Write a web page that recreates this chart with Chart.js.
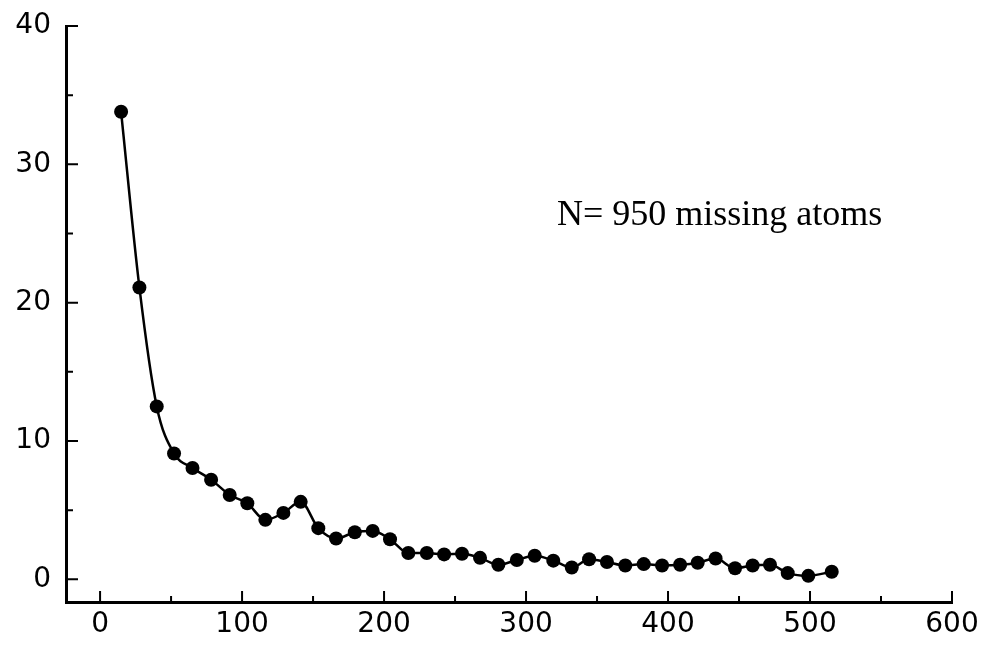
<!DOCTYPE html>
<html>
<head>
<meta charset="utf-8">
<script src="https://cdn.jsdelivr.net/npm/chart.js@4.4.1/dist/chart.umd.min.js"></script>
<style>
  html, body { margin: 0; padding: 0; background: #fff; }
  #wrap { width: 986px; height: 649px; }
</style>
</head>
<body>
<div id="wrap"><canvas id="atomChart" width="986" height="649"></canvas></div>
<script>
// values
const xValues = [14.8, 27.7, 39.9, 52.1, 65.1, 78.2, 91.3, 103.7, 116.4, 129.1,
                 141.3, 153.7, 166.2, 179.4, 192.0, 204.2, 217.1, 230.1, 242.3, 254.9,
                 267.6, 280.5, 293.5, 306.1, 319.2, 332.2, 344.4, 357.0, 369.9, 382.9,
                 395.8, 408.5, 420.9, 433.5, 447.2, 459.6, 471.8, 484.3, 498.8, 515.3];
const yValues = [33.8, 21.1, 12.5, 9.1, 8.05, 7.2, 6.1, 5.5, 4.3, 4.8,
                 5.6, 3.7, 2.95, 3.4, 3.5, 2.9, 1.9, 1.9, 1.8, 1.85,
                 1.55, 1.05, 1.4, 1.7, 1.35, 0.85, 1.45, 1.25, 1.0, 1.1,
                 1.0, 1.05, 1.2, 1.5, 0.8, 1.0, 1.05, 0.45, 0.25, 0.55];
const xTicks = [0, 100, 200, 300, 400, 500, 600];
const xMinorTicks = [50, 150, 250, 350, 450, 550];
const yTicks = [0, 10, 20, 30, 40];
const yMinorTicks = [5, 15, 25, 35];
const noteText = 'N= 950 missing atoms';

const points = xValues.map((x, i) => ({ x: x, y: yValues[i] }));

// inward ticks + the text note
const axisTicks = {
    id: 'axisTicks',
    afterDraw(chart) {
        const ctx = chart.ctx;
        const xs = chart.scales.x;
        const ys = chart.scales.y;
        const area = chart.chartArea;
        ctx.save();
        ctx.strokeStyle = '#000';
        ctx.lineWidth = 2;
        ctx.beginPath();
        yTicks.forEach(v => {
            const p = ys.getPixelForValue(v);
            ctx.moveTo(area.left, p); ctx.lineTo(area.left + 12, p);
        });
        yMinorTicks.forEach(v => {
            const p = ys.getPixelForValue(v);
            ctx.moveTo(area.left, p); ctx.lineTo(area.left + 7, p);
        });
        xTicks.forEach(v => {
            const p = xs.getPixelForValue(v);
            ctx.moveTo(p, area.bottom); ctx.lineTo(p, area.bottom - 11);
        });
        xMinorTicks.forEach(v => {
            const p = xs.getPixelForValue(v);
            ctx.moveTo(p, area.bottom); ctx.lineTo(p, area.bottom - 6);
        });
        ctx.stroke();

        ctx.fillStyle = '#000';
        ctx.font = '36px "Liberation Serif", "Times New Roman", serif';
        ctx.textAlign = 'left';
        ctx.textBaseline = 'alphabetic';
        ctx.fillText(noteText, xs.getPixelForValue(321.8), ys.getPixelForValue(25.6));
        ctx.restore();
    }
};

const ctx = document.getElementById('atomChart').getContext('2d');
const chart = new Chart(ctx, {
    type: 'line',
    data: {
        datasets: [{
            data: points,
            borderColor: '#000',
            backgroundColor: '#000',
            borderWidth: 2.5,
            cubicInterpolationMode: 'monotone',
            pointRadius: 7,
            pointHoverRadius: 7,
            pointBackgroundColor: '#000',
            pointBorderWidth: 0
        }]
    },
    options: {
        responsive: false,
        animation: false,
        layout: { padding: { top: 26, right: 34, left: 0, bottom: 0 } },
        plugins: {
            legend: { display: false },
            tooltip: { enabled: false }
        },
        scales: {
            x: {
                type: 'linear',
                min: -24,
                max: 600,
                afterBuildTicks: s => { s.ticks = xTicks.map(v => ({ value: v })); },
                afterFit: s => { s.height = 47; s.paddingLeft = 0; s.paddingRight = 0; },
                grid: { display: false, drawTicks: false },
                border: { display: true, color: '#000', width: 3 },
                ticks: {
                    color: '#000',
                    padding: 6,
                    maxRotation: 0,
                    autoSkip: false,
                    font: { family: '"DejaVu Sans", sans-serif', size: 28 }
                }
            },
            y: {
                type: 'linear',
                min: -1.64,
                max: 40,
                afterBuildTicks: s => { s.ticks = yTicks.map(v => ({ value: v })); },
                afterFit: s => { s.width = 66; s.paddingTop = 0; s.paddingBottom = 0; },
                grid: { display: false, drawTicks: false },
                border: { display: true, color: '#000', width: 3 },
                ticks: {
                    color: '#000',
                    padding: 15,
                    autoSkip: false,
                    font: { family: '"DejaVu Sans", sans-serif', size: 28 }
                }
            }
        }
    },
    plugins: [axisTicks]
});
</script>
</body>
</html>
